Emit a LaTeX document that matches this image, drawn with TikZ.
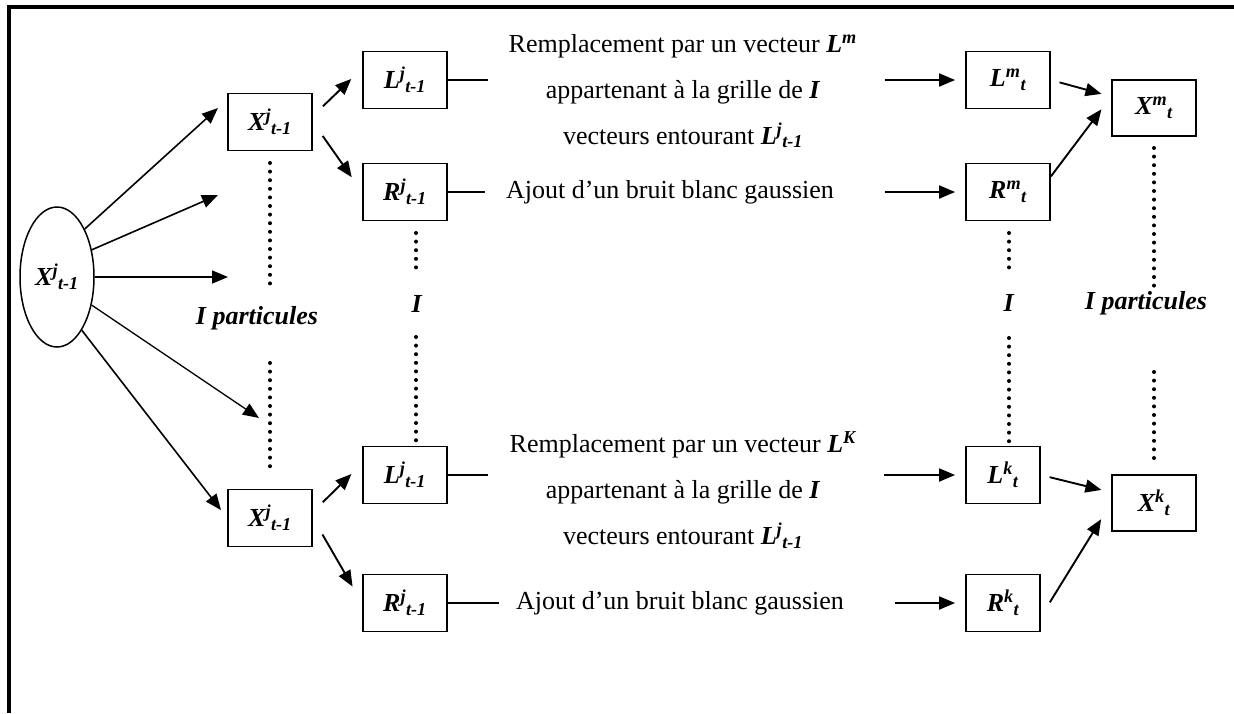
\documentclass[tikz,border=0pt]{standalone}
\usepackage{fontspec}
\setmainfont{Liberation Serif}
\usetikzlibrary{shapes.geometric,arrows.meta}

\newcommand{\bsym}[3]{\textbf{\textit{#1\textsuperscript{#2}\textsubscript{#3}}}}

\begin{document}
\begin{tikzpicture}[x=1pt,y=-1pt]
   \tikzstyle{every node}=[font=\fontsize{26}{46}\selectfont, inner sep=0pt]
   \tikzstyle{box}=[draw, line width=1.8pt, minimum width=84pt, minimum height=57pt]
   \tikzstyle{sbox}=[box, minimum width=74pt]
   \tikzstyle{arr}=[line width=1.9pt, -{Triangle[length=16pt,width=13pt]}]
   \tikzstyle{link}=[line width=1.8pt]
   \tikzstyle{dots}=[line width=4pt, line cap=round, dash pattern=on 0pt off 8.6pt]

\useasboundingbox (0,0) rectangle (1234,713);
\draw[line width=3.6pt] (9,713) -- (9,7) -- (1234,7);

% particles
\node[ellipse, draw, line width=1.5pt, minimum width=74pt, minimum height=140pt] (ell) at (57,277) {\bsym{X}{j}{t-1}};
\node[box] (xa) at (270,122) {\bsym{X}{j}{t-1}};
\node[box] (xb) at (270,518) {\bsym{X}{j}{t-1}};

\node[box] (la) at (405,80) {\bsym{L}{j}{t-1}};
\node[box] (ra) at (405,192) {\bsym{R}{j}{t-1}};
\node[box] (lb) at (405,475) {\bsym{L}{j}{t-1}};
\node[box] (rb) at (405,603) {\bsym{R}{j}{t-1}};

\node[box] (lma) at (1008,80) {\bsym{L}{m}{t}};
\node[box] (rma) at (1008,192) {\bsym{R}{m}{t}};
\node[sbox] (lkb) at (1003,475) {\bsym{L}{k}{t}};
\node[sbox] (rkb) at (1003,603) {\bsym{R}{k}{t}};

\node[box, minimum height=56pt] (xm) at (1154,108) {\bsym{X}{m}{t}};
\node[box, minimum height=56pt] (xk) at (1154,503) {\bsym{X}{k}{t}};

% texts
\node[align=center] (ta) at (683,91) {Remplacement par un vecteur \bsym{L}{m}{}\\
   appartenant à la grille de \textbf{\textit{I}}\\ vecteurs entourant \bsym{L}{j}{t-1}};
\node (na) at (670,192) {Ajout d’un bruit blanc gaussien};
\node[align=center] (tb) at (683,490) {Remplacement par un vecteur \bsym{L}{K}{}\\
   appartenant à la grille de \textbf{\textit{I}}\\ vecteurs entourant \bsym{L}{j}{t-1}};
\node (nb) at (680,603) {Ajout d’un bruit blanc gaussien};

\node (pl) at (257,318) {\textbf{\textit{I particules}}};
\node (il) at (417,304) {\textbf{\textit{I}}};
\node (ir) at (1009,303) {\textbf{\textit{I}}};
\node (pr) at (1146,303) {\textbf{\textit{I particules}}};

% free ends
\coordinate (e1) at (218,108);
\coordinate (e2) at (218,195);
\coordinate (e3) at (228,277);
\coordinate (e4) at (259,418);
\coordinate (lae) at (488,80);
\coordinate (rae) at (485,192);
\coordinate (lbe) at (488,475);
\coordinate (rbe) at (499,603);
\coordinate (lms) at (885,80);
\coordinate (rms) at (885,192);
\coordinate (lks) at (884,475);
\coordinate (rks) at (895,603);

\draw[arr, line width=1.6pt] (ell.60) -- (e1);
\draw[arr, line width=1.6pt] (ell.38) -- (e2);
\draw[arr, line width=1.6pt] (ell.east) -- (e3);
\draw[arr, line width=1.3pt] (ell.-39) -- (e4);
\draw[arr, line width=1.6pt, shorten >=10pt] (ell.-65) -- (xb.west);

\draw[arr, shorten <=14pt, shorten >=15pt] (xa.8) -- (la.165);
\draw[arr, shorten <=17pt, shorten >=18pt] (xa.east) -- (ra.west);
\draw[arr, shorten <=14pt, shorten >=15pt] (xb.8) -- (lb.165);
\draw[arr, shorten <=19pt, shorten >=19pt] (xb.east) -- (rb.west);

\draw[link] (la) -- (lae);
\draw[link] (ra) -- (rae);
\draw[link] (lb) -- (lbe);
\draw[link] (rb) -- (rbe);

\draw[arr, shorten >=10pt] (lms) -- (lma);
\draw[arr, shorten >=10pt] (rms) -- (rma);
\draw[arr, shorten >=10pt] (lks) -- (lkb);
\draw[arr, shorten >=10pt] (rks) -- (rkb);

\draw[arr, shorten <=9pt, shorten >=10pt] (lma.east) -- (xm.165);
\draw[arr, shorten >=16pt] (rma.20) -- (xm.165);
\draw[arr, shorten <=9pt, shorten >=10pt] (lkb.east) -- (xk.166);
\draw[arr, shorten <=17pt, shorten >=19pt] (rkb.-20) -- (xk.west);

% dotted columns
\draw[dots] (270,163) -- (270,290);
\draw[dots] (270,363) -- (270,470);
\draw[dots] (416,233) -- (416,275);
\draw[dots] (416,337) -- (416,443);
\draw[dots] (1009,233) -- (1009,275);
\draw[dots] (1009,338) -- (1009,445);
\draw[dots] (1154,148) -- (1154,290);
\draw[dots] (1154,372) -- (1154,462);

\end{tikzpicture}
\end{document}
